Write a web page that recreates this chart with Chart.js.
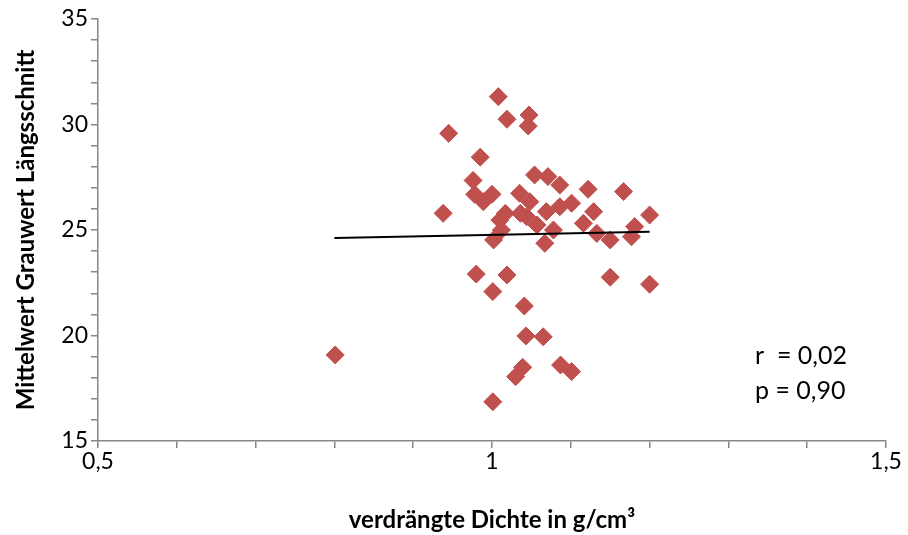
<!DOCTYPE html>
<html>
<head>
<meta charset="utf-8">
<script src="https://cdn.jsdelivr.net/npm/chart.js@4/dist/chart.umd.min.js"></script>
<style>
  html, body { margin: 0; padding: 0; background: #fff; }
  #wrap { position: relative; width: 908px; height: 535px; }
</style>
</head>
<body>
<div id="wrap"><canvas id="c" width="908" height="535"></canvas></div>
<script>
// Data
const density = [0.801, 0.938, 0.945, 0.985, 0.976, 0.978, 0.989, 1.000, 1.008, 1.019,
                 1.047, 1.046, 1.054, 1.071, 1.086, 1.122, 1.167, 1.035, 1.048, 1.017,
                 1.010, 1.012, 1.002, 1.044, 1.057, 1.069, 1.086, 1.101, 1.129, 1.116,
                 1.133, 1.150, 1.078, 1.067, 1.200, 1.181, 1.177, 0.980, 1.019, 1.001,
                 1.041, 1.043, 1.065, 1.039, 1.030, 1.001, 1.087, 1.101, 1.150, 1.200,
                 1.036];
const grayValue = [19.08, 25.79, 29.58, 28.45, 27.35, 26.69, 26.34, 26.69, 31.32, 30.25,
                   30.45, 29.93, 27.61, 27.53, 27.13, 26.93, 26.82, 26.74, 26.34, 25.79,
                   25.47, 25.00, 24.53, 25.63, 25.24, 25.87, 26.10, 26.27, 25.87, 25.32,
                   24.84, 24.53, 25.00, 24.37, 25.71, 25.16, 24.68, 22.91, 22.87, 22.08,
                   21.40, 19.98, 19.94, 18.49, 18.05, 16.86, 18.60, 18.29, 22.76, 22.43,
                   25.79];
const trendX = [0.8, 1.2];
const trendY = [24.62, 24.92];
const xMajorTicks = [0.5, 1, 1.5];
const yMajorTicks = [15, 20, 25, 30, 35];
const statsText = ['r  = 0,02', 'p = 0,90'];
const xTitle = 'verdrängte Dichte in g/cm³';
const yTitle = 'Mittelwert Grauwert Längsschnitt';

const FONT = 'Lato, "Open Sans", sans-serif';
const scatterPts = density.map((x, i) => ({ x: x, y: grayValue[i] }));
const trendPts = trendX.map((x, i) => ({ x: x, y: trendY[i] }));

const statsPlugin = {
  id: 'stats',
  afterDraw(chart) {
    const ctx = chart.ctx;
    ctx.save();
    ctx.fillStyle = '#000';
    ctx.font = '25px ' + FONT;
    ctx.textAlign = 'left';
    ctx.textBaseline = 'alphabetic';
    ctx.fillText(statsText[0], 755, 364);
    ctx.fillText(statsText[1], 755, 399);
    ctx.restore();
  }
};

const fmt = v => String(v).replace('.', ',');

new Chart(document.getElementById('c'), {
  type: 'scatter',
  data: {
    datasets: [
      {
        type: 'line',
        data: trendPts,
        borderColor: '#000',
        borderWidth: 2,
        pointRadius: 0,
        fill: false,
        order: 0
      },
      {
        data: scatterPts,
        pointStyle: 'rectRot',
        pointRadius: 9,
        pointHoverRadius: 9,
        backgroundColor: '#C0504D',
        borderColor: '#C0504D',
        borderWidth: 1,
        order: 1
      }
    ]
  },
  options: {
    responsive: false,
    animation: false,
    layout: { padding: { left: 12, right: 22, top: 19, bottom: 0 } },
    plugins: { legend: { display: false }, tooltip: { enabled: false } },
    scales: {
      x: {
        type: 'linear',
        min: 0.5, max: 1.5,
        ticks: {
          stepSize: 0.1,
          autoSkip: false,
          maxRotation: 0,
          padding: 0,
          color: '#000',
          font: { family: FONT, size: 23 },
          callback: v => {
            const r = Math.round(v * 10) / 10;
            return xMajorTicks.some(t => Math.abs(t - r) < 1e-9) ? fmt(r) : '';
          }
        },
        grid: { drawOnChartArea: false, drawTicks: true, tickLength: 7, color: '#868686', lineWidth: 1.5 },
        border: { display: true, color: '#868686', width: 1.5 },
        title: { display: true, text: xTitle, color: '#000', font: { family: FONT, size: 24, weight: 'bold' }, padding: { top: 0, bottom: 0 } },
        afterFit: s => { s.height = 94; }
      },
      y: {
        type: 'linear',
        min: 15, max: 35,
        ticks: {
          stepSize: 1,
          autoSkip: false,
          padding: 3,
          color: '#000',
          font: { family: FONT, size: 23 },
          callback: v => (yMajorTicks.indexOf(Math.round(v)) >= 0 && Math.abs(v - Math.round(v)) < 1e-9) ? String(v) : ''
        },
        grid: { drawOnChartArea: false, drawTicks: true, tickLength: 7, color: '#868686', lineWidth: 1.5 },
        border: { display: true, color: '#868686', width: 1.5 },
        title: { display: true, text: yTitle, color: '#000', font: { family: FONT, size: 24, weight: 'bold' }, padding: { top: 0, bottom: 0 } },
        afterFit: s => { s.width = 86; }
      }
    }
  },
  plugins: [statsPlugin]
});
</script>
</body>
</html>
